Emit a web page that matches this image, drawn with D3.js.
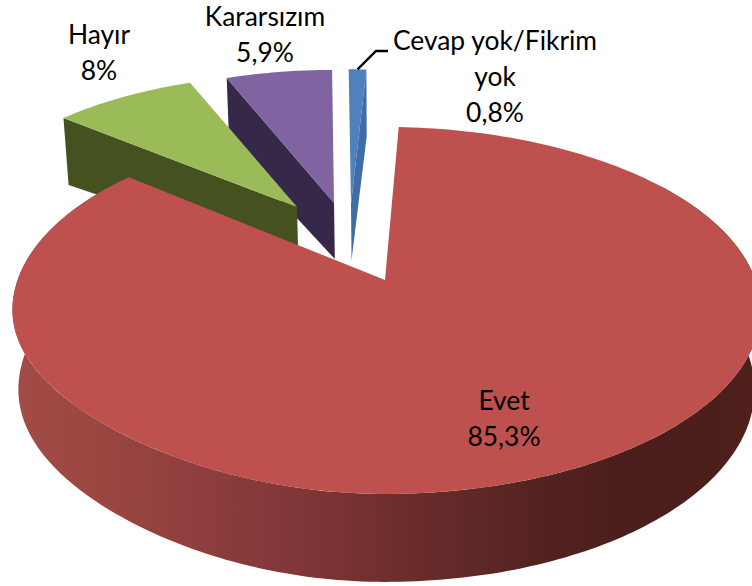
<!DOCTYPE html>
<html><head><meta charset="utf-8">
<script src="https://cdnjs.cloudflare.com/ajax/libs/d3/7.8.5/d3.min.js"></script>
<style>html,body{margin:0;padding:0;background:#fff}svg{display:block}text{font-family:Lato,"Open Sans",sans-serif;fill:#000}</style>
</head><body><svg id="c" width="752" height="586"></svg>
<script>
// Data
const categories = ["Evet","Hayır","Kararsızım","Cevap yok/Fikrim yok"];
const values = [85.3,8,5.9,0.8];
const valueLabels = ["85,3%","8%","5,9%","0,8%"];
const topColors = ["#BE504E","#9BBB59","#8064A2","#4F81BD"];
const sideColors = ["url(#redSide)","#45521F","#352848","#3F6EA6"];

// Layout of the 3D projection
const x0=385,y0=280,A=367.4,B=178.4,K=0.166,rightStretch=1.008,leftLift=7;
const apexX=[385,297,334,351], apexY=[280,207,203,204];
const scaleX=[1,.912,.915,1.12], scaleY=[1,.865,.87,.88];
const depthFront=88, depthInner=56, depthOuter=67, shrink=.984;
const startDeg=2.5;

const svg=d3.select("#c");
const defs=svg.append("defs");
const g=defs.append("linearGradient").attr("id","redSide").attr("gradientUnits","userSpaceOnUse")
  .attr("x1",14).attr("x2",752).attr("y1",0).attr("y2",0);
[[0,"#A34C47"],[.12,"#9A4641"],[.35,"#85383A"],[.5,"#702F2E"],[.7,"#542320"],[.85,"#4A1E1B"],[1,"#4F201C"]]
  .forEach(s=>g.append("stop").attr("offset",s[0]).attr("stop-color",s[1]));

const arcs=d3.pie().sort(null).value(d=>d)
  .startAngle(startDeg*Math.PI/180).endAngle(startDeg*Math.PI/180+2*Math.PI)(values);
const P=t=>{
  const u=Math.sin(t),v=Math.cos(t),w=1+K*v;
  const lift=(u<0&&v<0)?leftLift*Math.pow(2*u*v,2):0;
  const stretch=u>0?1+(rightStretch-1)*u*u:1;
  return [A*u/w*stretch,-B*v/w-lift];
};
const S=(i,t)=>{const p=P(t);return [apexX[i]+scaleX[i]*p[0],apexY[i]+scaleY[i]*p[1]]};
const low=(p,d)=>[x0+(p[0]-x0)*shrink,p[1]+d];
const line=d3.line();
const samples=(a,b,n)=>d3.range(n+1).map(j=>a+(b-a)*j/n);

// wall shown: 0=start radial wall, 1=end radial wall
const wall=[null,0,0,1];
const order=[2,3,1,0];
order.forEach(i=>{
  const a=arcs[i];
  if(i===0){
    // curved rim of the large slice, swept as quads so the silhouette is the full envelope
    const ts=samples(55*Math.PI/180,305*Math.PI/180,240);
    const top=ts.map(t=>S(0,t));
    const bot=ts.map((t,j)=>low(top[j],depthFront-10*(Math.cos(t)+1)));
    let d="";
    for(let j=0;j<ts.length-1;j++) d+=line([top[j],top[j+1],bot[j+1],bot[j]])+"Z";
    svg.append("path").attr("d",d).attr("fill",sideColors[0]);
  } else {
    const t=wall[i]===0?a.startAngle:a.endAngle;
    const o=S(i,t),c=[apexX[i],apexY[i]];
    const pts=[o,low(o,depthOuter),low(c,depthInner),c];
    svg.append("path").attr("d",line(pts)+"Z").attr("fill",sideColors[i]);
  }
  const ts=samples(a.startAngle,a.endAngle,i===0?240:30);
  const pts=[[apexX[i],apexY[i]]].concat(ts.map(t=>S(i,t)));
  svg.append("path").attr("d",line(pts)+"Z").attr("fill",topColors[i]);
});

// Leader line
const blueTop=S(3,(arcs[3].startAngle+arcs[3].endAngle)/2);
svg.append("path").attr("d",line([[blueTop[0],blueTop[1]],[376,51],[388,51]]))
  .attr("fill","none").attr("stroke","#000").attr("stroke-width",2.4);

// Labels
const labelLines=[["Evet",valueLabels[0]],["Hayır",valueLabels[1]],["Kararsızım",valueLabels[2]],["Cevap yok/Fikrim","yok",valueLabels[3]]];
const labelX=[504,99,265,495], labelY=[410,44,26,50], labelGap=[36,36,36,36];
labelLines.forEach((ls,i)=>ls.forEach((s,j)=>{
  svg.append("text").attr("x",labelX[i]).attr("y",labelY[i]+j*labelGap[i])
   .attr("text-anchor","middle").attr("font-size",26.4).text(s);
}));
</script></body></html>
